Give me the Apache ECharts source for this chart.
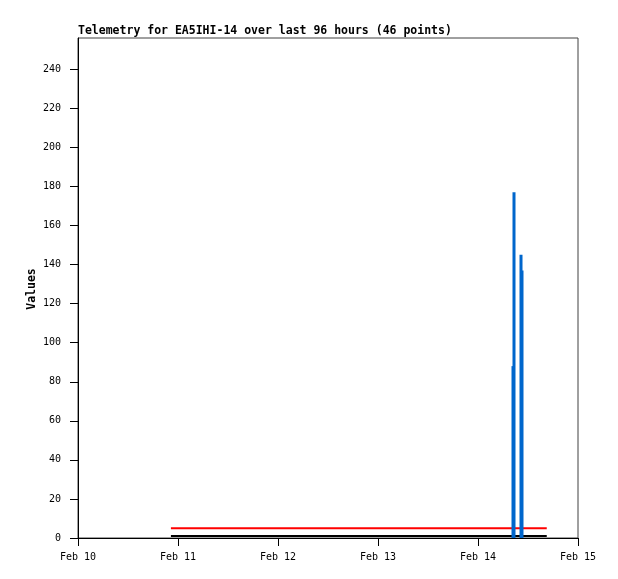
<!DOCTYPE html>
<html>
<head>
<meta charset="utf-8">
<script src="https://cdn.jsdelivr.net/npm/echarts@6/dist/echarts.min.js"></script>
<style>
  html, body { margin: 0; padding: 0; background: #fff; }
  #chart { width: 618px; height: 579px; }
</style>
</head>
<body>
<div id="chart"></div>
<script>
// hours counted from Feb 10 00:00
const dayLabels = ['Feb 10', 'Feb 11', 'Feb 12', 'Feb 13', 'Feb 14', 'Feb 15'];
const yTicks = [0, 20, 40, 60, 80, 100, 120, 140, 160, 180, 200, 220, 240];

const redHours = [22.3, 40.0, 60.0, 80.0, 100.0, 112.5];
const redValues = [5, 5, 5, 5, 5, 5];

const blackHours = [22.3, 40.0, 60.0, 80.0, 100.0, 112.5];
const blackValues = [1, 1, 1, 1, 1, 1];

const blueHours = [104.4, 104.64, 106.32, 106.56];
const blueValues = [88, 177, 145, 137];

const pairs = (xs, ys) => xs.map((x, i) => [x, ys[i]]);

const chart = echarts.init(document.getElementById('chart'));

const mono = 'DejaVu Sans Mono';

const option = {
    animation: false,
    backgroundColor: '#fff',
    title: {
        text: 'Telemetry for EA5IHI-14 over last 96 hours (46 points)',
        left: 78,
        top: 25,
        padding: 0,
        textStyle: { fontFamily: mono, fontSize: 11.5, fontWeight: 'bold', color: '#000' }
    },
    // y axis title
    graphic: [{
        type: 'text',
        x: 32,
        y: 289,
        rotation: Math.PI / 2,
        style: {
            text: 'Values',
            font: 'bold 11.5px "DejaVu Sans Mono"',
            fill: '#000',
            align: 'center',
            verticalAlign: 'middle'
        }
    }],
    grid: {
        left: 78, right: 40, top: 38, bottom: 41,
        show: true, borderColor: '#404040', borderWidth: 1
    },
    xAxis: {
        type: 'value',
        min: 0, max: 120, interval: 24,
        axisLine: { lineStyle: { color: '#000', width: 1 } },
        axisTick: { inside: false, length: 8, lineStyle: { color: '#000' } },
        splitLine: { show: false },
        axisLabel: {
            margin: 14,
            fontFamily: mono, fontSize: 10, color: '#000',
            formatter: v => dayLabels[Math.round(v / 24)]
        }
    },
    yAxis: {
        type: 'value',
        min: 0, max: 256,
        axisLine: { show: true, lineStyle: { color: '#000', width: 1 } },
        axisTick: { show: true, inside: false, length: 8, customValues: yTicks, lineStyle: { color: '#000' } },
        splitLine: { show: false },
        axisLabel: { margin: 17, customValues: yTicks, fontFamily: mono, fontSize: 10, color: '#000' }
    },
    series: [
        {
            type: 'line',
            data: pairs(blackHours, blackValues),
            showSymbol: false,
            lineStyle: { color: '#000', width: 2 },
            z: 2
        },
        {
            type: 'line',
            data: pairs(redHours, redValues),
            showSymbol: false,
            lineStyle: { color: '#ff0000', width: 2 },
            z: 3
        },
        {
            type: 'bar',
            data: pairs(blueHours, blueValues),
            barWidth: 3,
            itemStyle: { color: '#0066cc' },
            z: 4
        }
    ]
};

chart.setOption(option);
</script>
</body>
</html>
